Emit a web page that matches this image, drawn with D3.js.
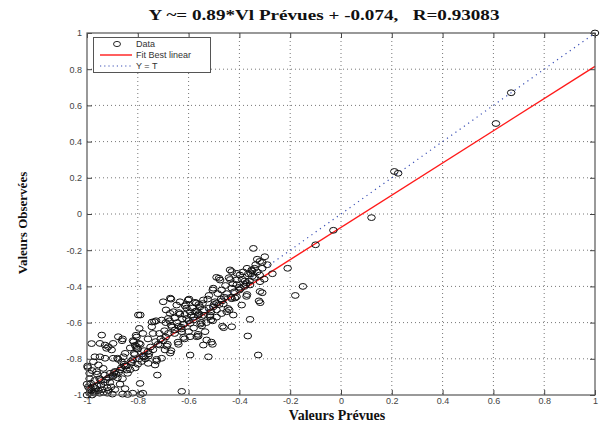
<!DOCTYPE html>
<html><head><meta charset="utf-8">
<script src="https://cdn.jsdelivr.net/npm/d3@7"></script>
<style>body{margin:0;background:#fff;}svg{display:block;}</style>
</head><body>
<svg id="c" width="603" height="423"></svg>
<script>
const titleText = "Y ~= 0.89*Vl Prévues + -0.074,   R=0.93083";
const xLabel = "Valeurs Prévues";
const yLabel = "Valeurs Observées";
const xTicks = [-1,-0.8,-0.6,-0.4,-0.2,0,0.2,0.4,0.6,0.8,1];
const yTicks = [-1,-0.8,-0.6,-0.4,-0.2,0,0.2,0.4,0.6,0.8,1];
const tickLabels = ["-1","-0.8","-0.6","-0.4","-0.2","0","0.2","0.4","0.6","0.8","1"];
const legendLabels = ["Data","Fit Best linear","Y = T"];
const fitSlope = 0.89, fitIntercept = -0.074;
const identityLine = [[-1,-1],[1,1]];
const points = [
[1.0,1.0],[0.67,0.67],[0.61,0.50],[0.21,0.235],[0.225,0.225],
[0.12,-0.02],[-0.03,-0.09],[-0.10,-0.17],[-0.21,-0.30],[-0.18,-0.45],[-0.15,-0.40],
[-0.345,-0.19],[-0.30,-0.236],[-0.32,-0.262],[-0.31,-0.268],[-0.336,-0.28],[-0.37,-0.30],[-0.352,-0.31],[-0.27,-0.33],[-0.302,-0.36],[-0.32,-0.337],[-0.354,-0.33],[-0.35,-0.345],[-0.398,-0.337],[-0.43,-0.318],[-0.437,-0.309],[-0.41,-0.328],[-0.441,-0.352],[-0.436,-0.362],[-0.476,-0.365],[-0.49,-0.35],[-0.48,-0.355],[-0.411,-0.365],[-0.378,-0.37],[-0.372,-0.38],[-0.375,-0.39],[-0.358,-0.392],[-0.319,-0.374],[-0.40,-0.405],[-0.395,-0.412],[-0.43,-0.41],[-0.503,-0.41],[-0.505,-0.42],[-0.319,-0.428],[-0.31,-0.435],[-0.37,-0.445],[-0.372,-0.455],[-0.411,-0.457],[-0.417,-0.464],[-0.433,-0.46],[-0.43,-0.468],[-0.472,-0.47],[-0.468,-0.48],[-0.463,-0.497],[-0.496,-0.485],[-0.49,-0.493],[-0.542,-0.475],[-0.323,-0.48],[-0.318,-0.49],[-0.391,-0.503],[-0.445,-0.522],[-0.44,-0.53],[-0.503,-0.513],[-0.555,-0.513],[-0.608,-0.52],[-0.575,-0.54],[-0.516,-0.558],[-0.49,-0.53],[-0.424,-0.558],[-0.358,-0.582],[-0.512,-0.585],[-0.505,-0.59],[-0.549,-0.567],[-0.553,-0.608],[-0.548,-0.618],[-0.594,-0.604],[-0.467,-0.62],[-0.462,-0.628],[-0.43,-0.623],[-0.535,-0.65],[-0.367,-0.674],[-0.627,-0.65],[-0.62,-0.682],[-0.616,-0.69],[-0.568,-0.678],[-0.51,-0.708],[-0.506,-0.72],[-0.542,-0.724],[-0.326,-0.779],
[-0.512,-0.541],[-0.45,-0.54],[-0.516,-0.567],[-0.539,-0.53],[-0.57,-0.536],[-0.562,-0.558],[-0.594,-0.54],[-0.581,-0.586],[-0.608,-0.577],[-0.638,-0.545],[-0.634,-0.553],[-0.66,-0.54],[-0.673,-0.549],[-0.614,-0.508],[-0.61,-0.5],[-0.57,-0.492],[-0.575,-0.488],[-0.647,-0.503],[-0.634,-0.485],[-0.598,-0.47],[-0.602,-0.475],[-0.669,-0.47],[-0.672,-0.465],[-0.70,-0.485],[-0.689,-0.53],[-0.728,-0.59],[-0.735,-0.595],[-0.744,-0.597],[-0.745,-0.623],[-0.706,-0.586],[-0.68,-0.577],[-0.669,-0.615],[-0.665,-0.625],[-0.654,-0.641],[-0.63,-0.625],[-0.628,-0.635],[-0.594,-0.678],[-0.563,-0.665],[-0.562,-0.675],[-0.529,-0.696],[-0.522,-0.789],[-0.594,-0.779],[-0.642,-0.708],[-0.64,-0.72],[-0.683,-0.72],[-0.686,-0.73],[-0.693,-0.751],[-0.713,-0.724],[-0.669,-0.755],[-0.672,-0.768],[-0.706,-0.797],[-0.726,-0.803],[-0.726,-0.812],[-0.756,-0.772],[-0.758,-0.785],[-0.732,-0.834],[-0.723,-0.89],[-0.759,-0.825],[-0.776,-0.79],[-0.78,-0.785],[-0.80,-0.746],[-0.805,-0.742],[-0.791,-0.936],[-0.798,-0.558],[-0.79,-0.558],[-0.794,-0.632],[-0.807,-0.67],[-0.805,-0.68],[-0.819,-0.70],[-0.816,-0.705],[-0.811,-0.726],[-0.805,-0.732],[-0.795,-0.715],[-0.79,-0.72],[-0.815,-0.77],[-0.812,-0.776],[-0.827,-0.815],[-0.824,-0.822],[-0.854,-0.83],[-0.852,-0.84],[-0.864,-0.816],[-0.89,-0.87],[-0.893,-0.876],[-0.898,-0.892],[-0.898,-0.898],[-0.909,-0.88],[-0.87,-0.862],[-0.844,-0.862],[-0.857,-0.789],[-0.88,-0.797],[-0.877,-0.803],[-0.897,-0.797],[-0.903,-0.751],[-0.916,-0.733],[-0.929,-0.724],[-0.86,-0.69],[-0.862,-0.70],[-0.877,-0.678],[-0.897,-0.715],[-0.923,-0.742],[-0.949,-0.715],[-0.942,-0.669],[-0.982,-0.716],[-0.975,-0.816],[-0.998,-0.84],[-0.997,-0.848],[-0.955,-0.834],[-0.969,-0.789],[-0.949,-0.789],[-0.929,-0.797],[-0.936,-0.853],[-0.962,-0.871],
[-1,-1],[-0.99,-0.99],[-0.98,-1],[-0.97,-0.98],[-0.99,-0.965],[-0.96,-0.95],[-0.95,-0.99],[-0.94,-0.97],[-0.93,-0.93],[-0.97,-0.92],[-1,-0.94],[-0.99,-0.91],[-0.95,-0.91],[-0.92,-0.96],[-0.92,-0.99],[-0.90,-0.995],[-0.91,-0.93],[-0.93,-0.89],[-0.96,-0.885],[-0.98,-0.865],[-0.88,-0.905],[-0.87,-0.94],[-0.89,-0.97],[-0.86,-0.995],[-0.84,-0.997],[-0.82,-0.99],[-0.79,-0.997],[-0.78,-0.99],[-0.85,-0.965],[-0.97,-0.99],[-0.985,-0.975],[-0.975,-0.955],[-0.955,-0.975],[-0.945,-0.945],[-0.935,-0.985],[-0.915,-0.975],[-0.905,-0.955],[-0.925,-0.915],[-0.99,-0.88],[-0.985,-0.935],[-0.86,-0.91],[-0.84,-0.88],[-0.83,-0.86],[-0.81,-0.85],[-0.80,-0.83],[-0.785,-0.815],[-0.77,-0.80],[-0.76,-0.76],[-0.74,-0.75],[-0.72,-0.72],[-0.70,-0.70],[-0.69,-0.68],[-0.71,-0.69],[-0.68,-0.66],[-0.655,-0.66],[-0.64,-0.62],[-0.62,-0.61],[-0.60,-0.59],[-0.58,-0.57],[-0.56,-0.55],[-0.54,-0.56],[-0.52,-0.52],[-0.50,-0.50],[-0.48,-0.50],[-0.46,-0.46],[-0.45,-0.44],[-0.42,-0.43],[-0.40,-0.42],[-0.38,-0.40],[-0.36,-0.37],[-0.34,-0.35],[-0.33,-0.32],[-0.35,-0.315],[-0.31,-0.30],[-0.29,-0.28],[-0.627,-0.98],
[-0.995,-0.955],[-0.965,-0.965],[-0.945,-0.92],[-0.915,-0.905],[-0.885,-0.885],[-0.875,-0.875],[-0.865,-0.85],[-0.845,-0.84],[-0.82,-0.805],[-0.795,-0.8],[-0.775,-0.755],[-0.75,-0.735],[-0.73,-0.705],[-0.715,-0.66],[-0.695,-0.645],[-0.69,-0.6],[-0.675,-0.59],[-0.655,-0.575],[-0.645,-0.6],[-0.625,-0.58],[-0.615,-0.555],[-0.59,-0.56],[-0.585,-0.52],[-0.56,-0.5],[-0.545,-0.495],[-0.525,-0.47],[-0.52,-0.45],[-0.485,-0.44],[-0.47,-0.42],[-0.455,-0.395],[-0.425,-0.385],[-0.41,-0.39],[-0.39,-0.36],[-0.385,-0.32],[-0.365,-0.33],[-0.34,-0.3],[-0.33,-0.25],[-0.6,-0.65],[-0.58,-0.63],[-0.55,-0.6],[-0.53,-0.6],[-0.49,-0.57],[-0.47,-0.55],[-0.74,-0.66],[-0.76,-0.69],[-0.78,-0.66],[-0.83,-0.74],[-0.85,-0.77]
];

const svg = d3.select("#c");
const L = 87, R = 595, T = 33, B = 395;
const x = d3.scaleLinear().domain([-1,1]).range([L,R]);
const y = d3.scaleLinear().domain([-1,1]).range([B,T]);
const sans = "'Liberation Sans', Arial, sans-serif";
const serif = "'Liberation Serif', 'Times New Roman', serif";

// grid
const g = svg.append("g");
g.selectAll(".vg").data(xTicks.slice(1,-1)).join("line")
  .attr("x1",d=>x(d)).attr("x2",d=>x(d)).attr("y1",T).attr("y2",B)
  .attr("stroke","#777").attr("stroke-width",1).attr("stroke-dasharray","1,3");
g.selectAll(".hg").data(yTicks.slice(1,-1)).join("line")
  .attr("y1",d=>y(d)).attr("y2",d=>y(d)).attr("x1",L).attr("x2",R)
  .attr("stroke","#777").attr("stroke-width",1).attr("stroke-dasharray","1,3");

// identity line
svg.append("line")
  .attr("x1",x(identityLine[0][0])).attr("y1",y(identityLine[0][1]))
  .attr("x2",x(identityLine[1][0])).attr("y2",y(identityLine[1][1]))
  .attr("stroke","#3a4fb5").attr("stroke-width",1.2).attr("stroke-dasharray","1.2,4");

// fit line
svg.append("line")
  .attr("x1",x(-1)).attr("y1",y(fitSlope*-1+fitIntercept))
  .attr("x2",x(1)).attr("y2",y(fitSlope*1+fitIntercept))
  .attr("stroke","#ff1a1a").attr("stroke-width",1.4);

// points
svg.append("g").selectAll("ellipse").data(points).join("ellipse")
  .attr("cx",d=>x(d[0])).attr("cy",d=>y(d[1]))
  .attr("rx",3.8).attr("ry",2.9)
  .attr("fill","none").attr("stroke","#111").attr("stroke-width",1);

// axes
function style(sel){
  sel.selectAll("path").remove();
  sel.selectAll("line").attr("stroke","#444");
  sel.selectAll("text").attr("font-family",sans).attr("font-size",9).attr("fill","#444");
}
const fmt = (d,i)=>tickLabels[i];
svg.append("g").attr("transform",`translate(0,${B})`)
  .call(d3.axisBottom(x).tickValues(xTicks).tickFormat(fmt).tickSizeInner(-5).tickSizeOuter(0).tickPadding(3)).call(style);
svg.append("g").attr("transform",`translate(${L},0)`)
  .call(d3.axisLeft(y).tickValues(yTicks).tickFormat(fmt).tickSizeInner(-5).tickSizeOuter(0).tickPadding(5)).call(style);
svg.append("g").attr("transform",`translate(0,${T})`)
  .call(d3.axisTop(x).tickValues(xTicks).tickFormat("").tickSizeInner(-5).tickSizeOuter(0)).call(style);
svg.append("g").attr("transform",`translate(${R},0)`)
  .call(d3.axisRight(y).tickValues(yTicks).tickFormat("").tickSizeInner(-5).tickSizeOuter(0)).call(style);

// box
svg.append("rect").attr("x",L).attr("y",T).attr("width",R-L).attr("height",B-T)
  .attr("fill","none").attr("stroke","#555").attr("stroke-width",1.2);

// legend
const lg = svg.append("g");
lg.append("rect").attr("x",93.5).attr("y",37.5).attr("width",117).attr("height",35)
  .attr("fill","#fff").attr("stroke","#555").attr("stroke-width",1);
const ly = [44,55,66];
lg.append("ellipse").attr("cx",117).attr("cy",ly[0]).attr("rx",3.5).attr("ry",2.6)
  .attr("fill","none").attr("stroke","#111").attr("stroke-width",0.9);
lg.append("line").attr("x1",100).attr("x2",132).attr("y1",ly[1]).attr("y2",ly[1])
  .attr("stroke","#ff1a1a").attr("stroke-width",1.4);
lg.append("line").attr("x1",100).attr("x2",132).attr("y1",ly[2]).attr("y2",ly[2])
  .attr("stroke","#3a4fb5").attr("stroke-width",1.2).attr("stroke-dasharray","1.2,3");
lg.selectAll("text").data(legendLabels).join("text")
  .attr("x",136).attr("y",(d,i)=>ly[i]+3.2).text(d=>d)
  .attr("font-family",sans).attr("font-size",9).attr("fill","#333");

// title and labels
svg.append("text").attr("x",324).attr("y",20).attr("text-anchor","middle")
  .attr("font-family",serif).attr("font-weight","bold").attr("font-size",14)
  .attr("fill","#111").attr("textLength",351).attr("lengthAdjust","spacingAndGlyphs")
  .style("white-space","pre").text(titleText);
svg.append("text").attr("x",337).attr("y",420).attr("text-anchor","middle")
  .attr("font-family",serif).attr("font-weight","bold").attr("font-size",14)
  .attr("fill","#111").text(xLabel);
svg.append("text").attr("transform","translate(27,223) rotate(-90)").attr("text-anchor","middle")
  .attr("font-family",serif).attr("font-weight","bold").attr("font-size",13)
  .attr("fill","#111").text(yLabel);
</script>
</body></html>
